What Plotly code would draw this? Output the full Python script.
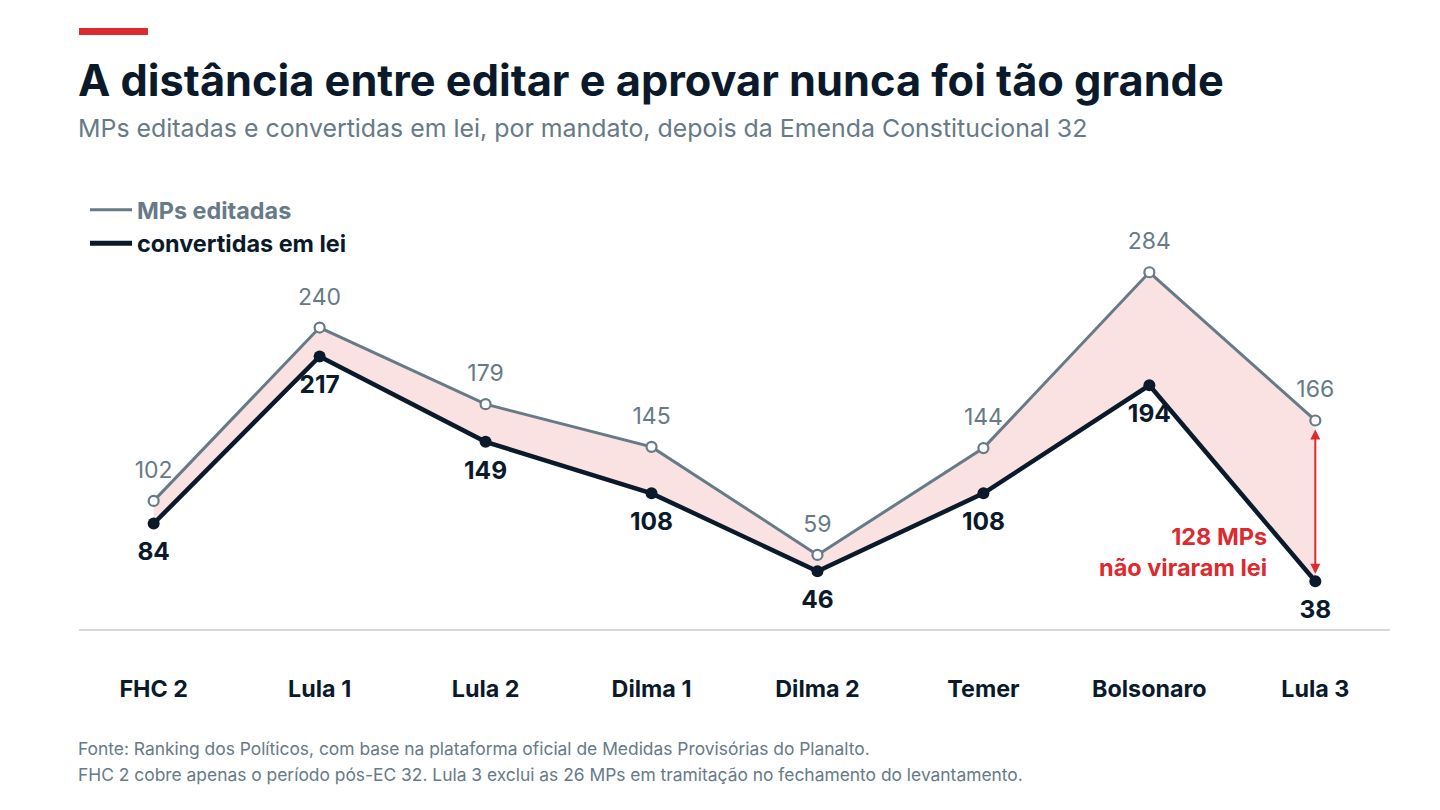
import plotly.graph_objects as go

# mandatos e valores
mandatos = ["FHC 2", "Lula 1", "Lula 2", "Dilma 1", "Dilma 2", "Temer", "Bolsonaro", "Lula 3"]
editadas = [102, 240, 179, 145, 59, 144, 284, 166]
convertidas = [84, 217, 149, 108, 46, 108, 194, 38]

GRAY = "#677a87"
NAVY = "#0b1a2b"
RED = "#dc2a2f"
PINK = "#fbe2e2"
FONT = "Inter"

xs = list(range(len(mandatos)))

fig = go.Figure()

# base invisível para o preenchimento entre as linhas
fig.add_trace(go.Scatter(
    x=xs, y=convertidas, mode="lines",
    line=dict(width=0, color=NAVY),
    showlegend=False, hoverinfo="skip",
))

fig.add_trace(go.Scatter(
    x=xs, y=editadas, mode="lines+markers",
    fill="tonexty", fillcolor=PINK,
    line=dict(color=GRAY, width=3),
    marker=dict(size=10, color="white", line=dict(color=GRAY, width=2.2)),
    showlegend=False,
))

fig.add_trace(go.Scatter(
    x=xs, y=convertidas, mode="lines+markers",
    line=dict(color=NAVY, width=4.5),
    marker=dict(size=12, color=NAVY),
    showlegend=False,
))

# rótulos: marcadores invisíveis maiores só para afastar o texto do ponto
fig.add_trace(go.Scatter(
    x=xs, y=editadas, mode="markers+text",
    marker=dict(size=26, opacity=0),
    text=[str(v) for v in editadas],
    textposition="top center",
    textfont=dict(family=FONT, size=23, color=GRAY),
    showlegend=False, hoverinfo="skip",
))
fig.add_trace(go.Scatter(
    x=xs, y=convertidas, mode="markers+text",
    marker=dict(size=28, opacity=0),
    text=["<b>%d</b>" % v for v in convertidas],
    textposition="bottom center",
    textfont=dict(family=FONT, size=24.5, color=NAVY),
    showlegend=False, hoverinfo="skip",
))

# entradas da legenda
fig.add_trace(go.Scatter(
    x=[None], y=[None], mode="lines",
    line=dict(color=GRAY, width=3),
    name="<b><span style='color:%s'>MPs editadas</span></b>" % GRAY,
))
fig.add_trace(go.Scatter(
    x=[None], y=[None], mode="lines",
    line=dict(color=NAVY, width=5),
    name="<b><span style='color:%s'>convertidas em lei</span></b>" % NAVY,
))

# seta dupla da diferença em Lula 3
last = len(mandatos) - 1
fig.add_annotation(
    x=last, y=convertidas[last] + 6, ax=last, ay=editadas[last] - 6,
    xref="x", yref="y", axref="x", ayref="y",
    text="", showarrow=True, arrowhead=2, arrowside="end+start",
    arrowsize=1, arrowwidth=2, arrowcolor=RED,
)
fig.add_annotation(
    x=last, y=(convertidas[last] + editadas[last]) / 2 - 40,
    xref="x", yref="y", xanchor="right", xshift=-46, yshift=-1, align="right",
    text="<b>%d MPs<br>não viraram lei</b>" % (editadas[last] - convertidas[last]),
    showarrow=False, font=dict(family=FONT, size=23.5, color=RED),
)

# título, subtítulo e notas
fig.add_shape(type="rect", xref="paper", yref="paper",
              x0=0, x1=69 / 1311, y0=1 + (190 - 28) / 439, y1=1 + (190 - 35) / 439,
              fillcolor=RED, line=dict(width=0))
fig.add_annotation(
    text="<b>A distância entre editar e aprovar nunca foi tão grande</b>",
    xref="paper", yref="paper", x=0, y=1 + (190 - 80) / 439, xshift=-3,
    xanchor="left", yanchor="middle", showarrow=False,
    font=dict(family=FONT, size=43.3, color=NAVY),
)
fig.add_annotation(
    text="MPs editadas e convertidas em lei, por mandato, depois da Emenda Constitucional 32",
    xref="paper", yref="paper", x=0, y=1 + (190 - 128) / 439, xshift=-3,
    xanchor="left", yanchor="middle", showarrow=False,
    font=dict(family=FONT, size=24.9, color=GRAY),
)
fig.add_annotation(
    text="Fonte: Ranking dos Políticos, com base na plataforma oficial de Medidas Provisórias do Planalto.",
    xref="paper", yref="paper", x=0, y=-(748 - 629) / 439, xshift=-3,
    xanchor="left", yanchor="middle", showarrow=False,
    font=dict(family=FONT, size=17.4, color=GRAY),
)
fig.add_annotation(
    text="FHC 2 cobre apenas o período pós-EC 32. Lula 3 exclui as 26 MPs em tramitação no fechamento do levantamento.",
    xref="paper", yref="paper", x=0, y=-(774 - 629) / 439, xshift=-3,
    xanchor="left", yanchor="middle", showarrow=False,
    font=dict(family=FONT, size=17.4, color=GRAY),
)

# a página coloca o gráfico 8 px abaixo e à direita: compensado nas margens
fig.update_layout(
    width=1432, height=802,
    paper_bgcolor="white", plot_bgcolor="white",
    margin=dict(l=71, r=50, t=182, b=181, pad=0),
    font=dict(family=FONT, color=NAVY),
    xaxis=dict(
        range=[-0.45, len(mandatos) - 0.55],
        tickvals=xs, ticktext=["<b>%s</b>" % m for m in mandatos],
        tickfont=dict(family=FONT, size=23.3, color=NAVY),
        showgrid=False, zeroline=False,
        showline=True, linecolor="#d9d9d9", linewidth=2,
        ticks="", ticklabelstandoff=38,
    ),
    yaxis=dict(
        range=[0, 349.5], visible=False, showgrid=False, zeroline=False,
    ),
    legend=dict(
        x=(85 - 79) / 1311, y=1 + (190 - 188) / 439,
        xanchor="left", yanchor="top", traceorder="normal",
        font=dict(family=FONT, size=23.4),
        bgcolor="rgba(0,0,0,0)", itemwidth=42, tracegroupgap=6,
    ),
    showlegend=True,
)

fig.write_html("out.html")
